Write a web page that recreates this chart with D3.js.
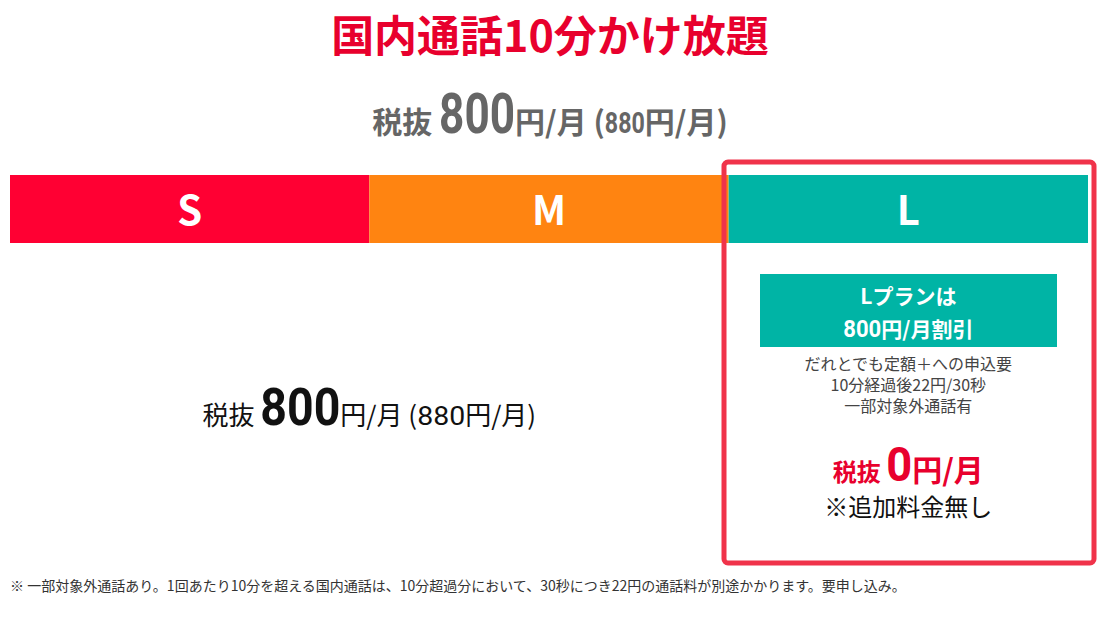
<!DOCTYPE html>
<html><head><meta charset="utf-8">
<script src="https://cdn.jsdelivr.net/npm/d3@7"></script>
<style>body{margin:0;background:#fff}svg{display:block}text{font-family:"Noto Sans CJK JP","Noto Sans",sans-serif}
.num{font-family:"Roboto","Noto Sans",sans-serif}</style>
</head><body>
<script>
const plans = ["S","M","L"];
const planColors = ["#ff0033","#ff8411","#00b4a5"];
const price = [800, 880];
const freePrice = [0];
const title = "国内通話10分かけ放題";
const notes = ["だれとでも定額＋への申込要","10分経過後22円/30秒","一部対象外通話有"];
const footnote = "※ 一部対象外通話あり。1回あたり10分を超える国内通話は、10分超過分において、30秒につき22円の通話料が別途かかります。要申し込み。";

const W=1100,H=622;
const svg=d3.select("body").append("svg").attr("width",W).attr("height",H);
const x=d3.scaleBand().domain(plans).range([10,1088]).paddingInner(0);
const col=d3.scaleOrdinal().domain(plans).range(planColors);

svg.append("text").attr("x",550).attr("y",52).attr("text-anchor","middle")
  .attr("font-size",43).attr("font-weight",700).attr("fill","#e8002d").text(title);

function priceLine(g,cx,y,color,big,small,weight,bigW,smallNumW){
  const t=g.append("text").attr("x",cx).attr("y",y).attr("text-anchor","middle").attr("fill",color);
  t.append("tspan").attr("font-size",small).attr("font-weight",weight).text("税抜 ");
  t.append("tspan").attr("class","num").attr("font-size",big).attr("font-weight",700)
    .attr("textLength",bigW).attr("lengthAdjust","spacingAndGlyphs").text(price[0]);
  t.append("tspan").attr("font-size",small).attr("font-weight",weight).text("円/月 (");
  t.append("tspan").attr("class","num").attr("font-size",small).attr("font-weight",weight)
    .attr("textLength",smallNumW).attr("lengthAdjust","spacingAndGlyphs").text(price[1]);
  t.append("tspan").attr("font-size",small).attr("font-weight",weight).text("円/月)");
}
priceLine(svg,550,133,"#666",56,30,700,76,40);

svg.selectAll("rect.band").data(plans).join("rect").attr("class","band")
  .attr("x",d=>x(d)).attr("y",175).attr("width",x.bandwidth()).attr("height",68).attr("fill",d=>col(d));
svg.selectAll("text.lab").data(plans).join("text").attr("class","lab")
  .attr("x",d=>x(d)+x.bandwidth()/2).attr("y",225).attr("text-anchor","middle")
  .attr("font-size",40).attr("font-weight",700).attr("fill","#fff").attr("font-family","Roboto,sans-serif").text(d=>d);

svg.append("rect").attr("x",724).attr("y",162).attr("width",370).attr("height",401).attr("rx",4)
  .attr("fill","none").attr("stroke","#f0334a").attr("stroke-width",5);

priceLine(svg,(x("S")+x("M")+x.bandwidth())/2,425,"#111",52,26,400,80,48);

const lx=x("L")+x.bandwidth()/2;
svg.append("rect").attr("x",760).attr("y",274).attr("width",297).attr("height",73).attr("fill","#00b4a5");
svg.append("text").attr("x",lx).attr("y",304).attr("text-anchor","middle").attr("fill","#fff")
  .attr("font-size",21).attr("font-weight",700).text("Lプランは");
const t2=svg.append("text").attr("x",lx).attr("y",337).attr("text-anchor","middle").attr("fill","#fff").attr("font-size",21).attr("font-weight",700);
t2.append("tspan").attr("class","num").attr("font-size",23).attr("textLength",38).attr("lengthAdjust","spacingAndGlyphs").text(price[0]);
t2.append("tspan").text("円/月割引");
svg.selectAll("text.note").data(notes).join("text").attr("class","note")
  .attr("x",lx).attr("y",(d,i)=>370+i*21).attr("text-anchor","middle").attr("font-size",16).attr("fill","#444").text(d=>d);
const t3=svg.append("text").attr("x",lx).attr("y",481).attr("text-anchor","middle").attr("fill","#e8002d").attr("font-weight",700);
t3.append("tspan").attr("font-size",24).text("税抜 ");
t3.append("tspan").attr("class","num").attr("font-size",48).attr("textLength",26).attr("lengthAdjust","spacingAndGlyphs").text(freePrice[0]);
t3.append("tspan").attr("font-size",30).text("円/月");
svg.append("text").attr("x",lx).attr("y",516).attr("text-anchor","middle").attr("font-size",24).attr("fill","#111").text("※追加料金無し");

svg.append("text").attr("x",10).attr("y",591).attr("font-size",14).attr("fill","#333").text(footnote);
</script>
</body></html>
